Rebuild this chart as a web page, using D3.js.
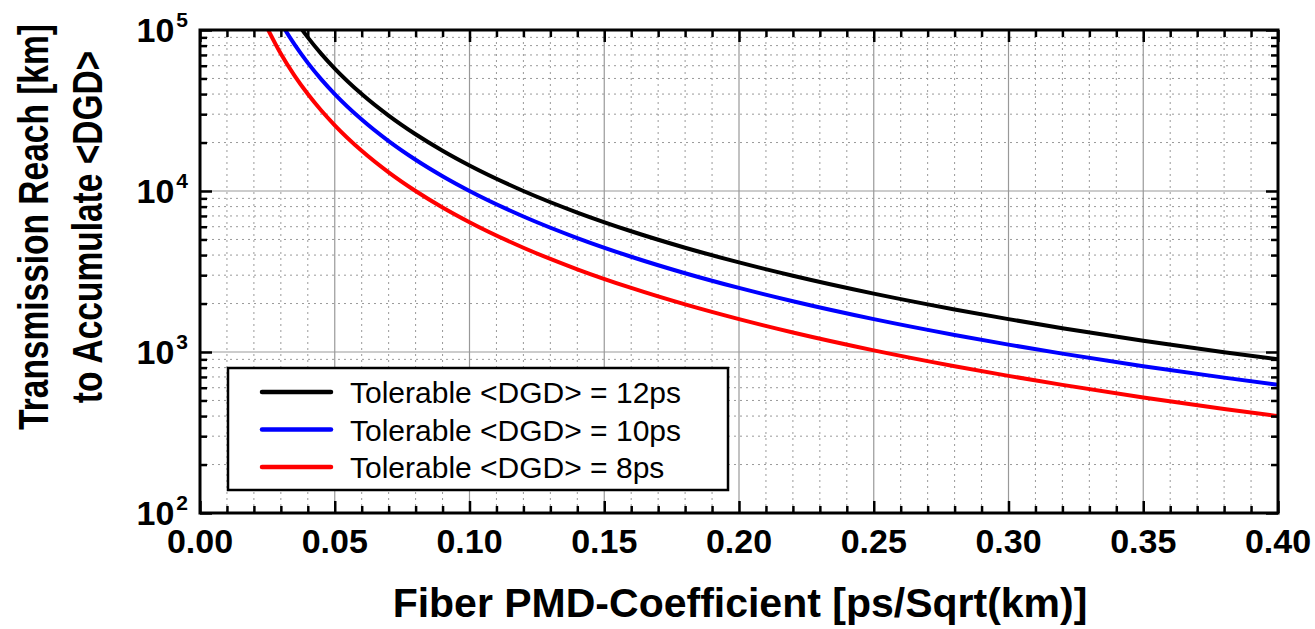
<!DOCTYPE html>
<html>
<head>
<meta charset="utf-8">
<script src="https://cdn.jsdelivr.net/npm/d3@7"></script>
<style>
body { margin: 0; background: #fff; }
text { font-family: Arial, "Liberation Sans", sans-serif; }
</style>
</head>
<body>
<svg id="chart" width="1315" height="629"></svg>
<script>
// PMD coefficient values [ps/sqrt(km)]
var pmd = [0.025, 0.03, 0.035, 0.04, 0.045, 0.05, 0.06, 0.07, 0.08, 0.09, 0.10,
  0.12, 0.14, 0.16, 0.18, 0.20, 0.22, 0.25, 0.28, 0.30, 0.32, 0.35, 0.38, 0.40];

// reach [km]
var reach12 = [230400, 160000, 117551, 90000, 71111, 57600, 40000, 29388, 22500, 17778, 14400,
  10000, 7347, 5625, 4444, 3600, 2975, 2304, 1837, 1600, 1406, 1176, 997, 900];
var reach10 = [160000, 111111, 81633, 62500, 49383, 40000, 27778, 20408, 15625, 12346, 10000,
  6944, 5102, 3906, 3086, 2500, 2066, 1600, 1276, 1111, 977, 816, 693, 625];
var reach8 = [102400, 71111, 52245, 40000, 31605, 25600, 17778, 13061, 10000, 7901, 6400,
  4444, 3265, 2500, 1975, 1600, 1322, 1024, 816, 711, 625, 522, 443, 400];

var seriesNames = ["Tolerable <DGD> = 12ps", "Tolerable <DGD> = 10ps", "Tolerable <DGD> = 8ps"];
var seriesColors = ["#000000", "#0000ff", "#ff0000"];
var xTicks = [0.00, 0.05, 0.10, 0.15, 0.20, 0.25, 0.30, 0.35, 0.40];
var yDecades = [2, 3, 4, 5];

var svg = d3.select("#chart");
var L = 200, R = 1278, T = 30, B = 513;

var x = d3.scaleLinear().domain([0, 0.4]).range([L, R]);
var y = d3.scaleLog().domain([100, 100000]).range([B, T]);

// minor values
var xMinor = d3.range(1, 40).map(function(i){ return i / 100; }).filter(function(v){ return Math.round(v*100) % 5 != 0; });
var yMinor = [];
[100, 1000, 10000].forEach(function(d){ for (var k = 2; k <= 9; k++) yMinor.push(d*k); });

var grid = svg.append("g");
grid.selectAll(".gxm").data(xMinor).enter().append("line")
  .attr("x1", function(d){ return x(d); }).attr("x2", function(d){ return x(d); })
  .attr("y1", T).attr("y2", B)
  .attr("stroke", "#999").attr("stroke-width", 1).attr("stroke-dasharray", "2,4");
grid.selectAll(".gym").data(yMinor).enter().append("line")
  .attr("y1", function(d){ return y(d); }).attr("y2", function(d){ return y(d); })
  .attr("x1", L).attr("x2", R)
  .attr("stroke", "#999").attr("stroke-width", 1).attr("stroke-dasharray", "2,4");
grid.selectAll(".gx").data(xTicks.slice(1, -1)).enter().append("line")
  .attr("x1", function(d){ return x(d); }).attr("x2", function(d){ return x(d); })
  .attr("y1", T).attr("y2", B)
  .attr("stroke", "#999").attr("stroke-width", 1.2);
grid.selectAll(".gy").data([1000, 10000]).enter().append("line")
  .attr("y1", function(d){ return y(d); }).attr("y2", function(d){ return y(d); })
  .attr("x1", L).attr("x2", R)
  .attr("stroke", "#999").attr("stroke-width", 1.2);

// curves
svg.append("clipPath").attr("id", "clip").append("rect")
  .attr("x", L).attr("y", T).attr("width", R - L).attr("height", B - T);

var line = d3.line()
  .x(function(d){ return x(d[0]); })
  .y(function(d){ return y(d[1]); })
  .curve(d3.curveMonotoneX);

var allSeries = [reach12, reach10, reach8];
svg.append("g").attr("clip-path", "url(#clip)")
  .selectAll("path").data(allSeries).enter().append("path")
  .attr("d", function(s){ return line(s.map(function(v, i){ return [pmd[i], v]; })); })
  .attr("fill", "none")
  .attr("stroke", function(s, i){ return seriesColors[i]; })
  .attr("stroke-width", 4);

// axes with inward ticks
function addAxis(axis, tr) {
  var g = svg.append("g").attr("transform", tr).call(axis);
  g.select(".domain").remove();
  g.selectAll("line").attr("stroke", "#000").attr("stroke-width", 2.5);
  g.selectAll("text").remove();
  return g;
}
addAxis(d3.axisTop(x).tickValues(xTicks).tickSizeInner(12).tickSizeOuter(0), "translate(0," + B + ")");
addAxis(d3.axisTop(x).tickValues(xMinor).tickSizeInner(7).tickSizeOuter(0), "translate(0," + B + ")");
addAxis(d3.axisBottom(x).tickValues(xTicks).tickSizeInner(12).tickSizeOuter(0), "translate(0," + T + ")");
addAxis(d3.axisBottom(x).tickValues(xMinor).tickSizeInner(7).tickSizeOuter(0), "translate(0," + T + ")");
var yMajor = yDecades.map(function(e){ return Math.pow(10, e); });
addAxis(d3.axisRight(y).tickValues(yMajor).tickSizeInner(12).tickSizeOuter(0), "translate(" + L + ",0)");
addAxis(d3.axisRight(y).tickValues(yMinor).tickSizeInner(7).tickSizeOuter(0), "translate(" + L + ",0)");
addAxis(d3.axisLeft(y).tickValues(yMajor).tickSizeInner(12).tickSizeOuter(0), "translate(" + R + ",0)");
addAxis(d3.axisLeft(y).tickValues(yMinor).tickSizeInner(7).tickSizeOuter(0), "translate(" + R + ",0)");

// frame
svg.append("rect").attr("x", L).attr("y", T).attr("width", R - L).attr("height", B - T)
  .attr("fill", "none").attr("stroke", "#000").attr("stroke-width", 3);

// x tick labels
svg.selectAll(".xl").data(xTicks).enter().append("text")
  .attr("x", function(d){ return x(d); }).attr("y", 553)
  .attr("text-anchor", "middle")
  .style("font-size", "34px").style("font-weight", "bold")
  .text(function(d){ return d.toFixed(2); });

// y tick labels 10^n
var yl = svg.selectAll(".yl").data(yDecades).enter().append("text")
  .attr("x", 188).attr("y", function(d){ return y(Math.pow(10, d)) + 12; })
  .attr("text-anchor", "end")
  .style("font-size", "34px").style("font-weight", "bold");
yl.append("tspan").text("10");
yl.append("tspan").attr("dx", 2).attr("dy", -15).style("font-size", "21px")
  .text(function(d){ return d; });

// axis titles
svg.append("text").attr("x", 740).attr("y", 617).attr("text-anchor", "middle")
  .style("font-size", "41px").style("font-weight", "bold")
  .text("Fiber PMD-Coefficient [ps/Sqrt(km)]");
var yt = svg.append("text").attr("transform", "translate(48,227) rotate(-90) scale(1,1.26)")
  .attr("text-anchor", "middle").style("font-size", "33.5px").style("font-weight", "bold");
yt.append("tspan").attr("x", 0).attr("y", 0).text("Transmission Reach [km]");
yt.append("tspan").attr("x", 0).attr("y", 43).text("to Accumulate <DGD>");

// legend
var lg = svg.append("g");
lg.append("rect").attr("x", 228).attr("y", 368).attr("width", 500).attr("height", 122)
  .attr("fill", "#fff").attr("stroke", "#000").attr("stroke-width", 2.5);
seriesNames.forEach(function(name, i) {
  var cy = 392 + i * 37.5;
  lg.append("line").attr("x1", 262).attr("x2", 331).attr("y1", cy).attr("y2", cy)
    .attr("stroke", seriesColors[i]).attr("stroke-width", 4.5).attr("stroke-linecap", "round");
  lg.append("text").attr("x", 350).attr("y", cy + 11)
    .style("font-size", "30px").text(name);
});
</script>
</body>
</html>
